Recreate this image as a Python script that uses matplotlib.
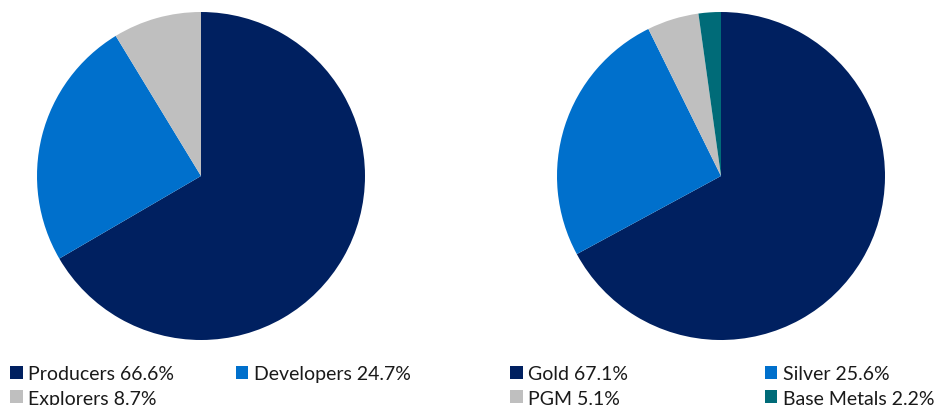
import matplotlib
matplotlib.use("Agg")
import matplotlib.pyplot as plt
from matplotlib.patches import Patch

stage_labels = ["Producers", "Developers", "Explorers"]
stage_values = [66.6, 24.7, 8.7]
metal_labels = ["Gold", "Silver", "PGM", "Base Metals"]
metal_values = [67.1, 25.6, 5.1, 2.2]

navy = "#002060"
blue = "#0070CC"
grey = "#BFBFBF"
teal = "#006B78"
stage_colors = [navy, blue, grey]
metal_colors = [navy, blue, grey, teal]

plt.rcParams['font.family'] = ['Lato', 'DejaVu Sans']

W, H = 938, 406
fig = plt.figure(figsize=(W / 100, H / 100), dpi=100)

def pie_axes(cx, cy, r):
    return fig.add_axes([(cx - r) / W, (H - cy - r) / H, 2 * r / W, 2 * r / H])

ax1 = pie_axes(201, 177, 164)
ax1.pie(stage_values, colors=stage_colors, startangle=90, counterclock=False)
ax1.set_xlim(-1, 1); ax1.set_ylim(-1, 1); ax1.set_aspect('equal')

ax2 = pie_axes(721, 177, 164)
ax2.pie(metal_values, colors=metal_colors, startangle=90, counterclock=False)
ax2.set_xlim(-1, 1); ax2.set_ylim(-1, 1); ax2.set_aspect('equal')

def make_legend(labels, values, colors, x, colsp):
    handles = [Patch(facecolor=c, edgecolor='none') for c in colors]
    texts = [f"{l} {v}%" for l, v in zip(labels, values)]
    # row-wise order for a 2-column legend
    order = list(range(0, len(texts), 2)) + list(range(1, len(texts), 2))
    handles = [handles[i] for i in order]
    texts = [texts[i] for i in order]
    leg = fig.legend(handles, texts, ncol=2, loc='upper left',
                     bbox_to_anchor=(x / W, 1 - 366 / H),
                     frameon=False, fontsize=14, handlelength=0.65,
                     handleheight=0.65, handletextpad=0.3,
                     columnspacing=colsp, labelspacing=0.4,
                     borderaxespad=0, borderpad=0, labelcolor='#1a1a1a')
    return leg

make_legend(stage_labels, stage_values, stage_colors, 10, 3.15)
make_legend(metal_labels, metal_values, metal_colors, 510, 7.0)

fig.savefig("out.png", dpi=100)
